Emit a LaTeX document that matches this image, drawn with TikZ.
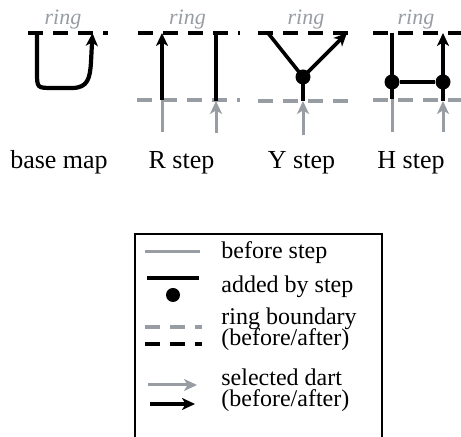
\documentclass[tikz,border=0pt]{standalone}
\usepackage{fontspec}
\setmainfont{Liberation Serif}
\usetikzlibrary{arrows.meta}
\definecolor{stepgray}{RGB}{152,157,163}
\newcommand\legfont{\fontsize{12}{10.6}\selectfont\lineskiplimit=-20pt\relax}

\begin{document}
\begin{tikzpicture}[x=0.5pt,y=-0.5pt,
        old/.style={stepgray, line width=1.5pt},
        new/.style={black, line width=1.6pt},
        ringb/.style={line width=1.8pt, dash pattern=on 7.5pt off 5pt},
        dart/.style={-{Stealth[length=6.5pt,width=6pt,inset=1.8pt]}},
        dot/.style={circle, fill=black, inner sep=0pt, minimum size=7.5pt},
        ringlbl/.style={stepgray, font=\fontsize{11}{13}\selectfont\itshape, anchor=base},
        steplbl/.style={font=\fontsize{13}{15}\selectfont, anchor=base},
        leglbl/.style={font=\legfont, anchor=base west, inner sep=0pt, align=left}]
        \useasboundingbox (0,0) rectangle (461,437);

        % base map
        \node[ringlbl] (ring0) at (63,25) {ring};
        \draw[ringb] (28,33) -- (108,33);
        \coordinate (u1) at (37,33);
        \coordinate (u2) at (92.5,33);
        \draw[new, line width=2.1pt, dart] (u1) -- (37,72) .. controls (37,88) .. (53,88)
            -- (72,88) .. controls (88,88) and (90,78) .. (91,62) -- (u2);
        \node[steplbl] (lb0) at (59,169) {base map};

        % R step
        \node[ringlbl] (ring1) at (187.5,25) {ring};
        \draw[ringb] (138,33) -- (240,33);
        \draw[ringb, stepgray] (137,100) -- (240,100);
        \coordinate (ra1) at (162,33);
        \coordinate (ra2) at (162,100);
        \coordinate (ra3) at (162,132);
        \coordinate (rb1) at (216,33);
        \coordinate (rb2) at (216,101);
        \coordinate (rb3) at (216,133);
        \draw[new, dart] (ra2) -- (ra1);
        \draw[old] (ra3) -- (ra2);
        \draw[new] (rb1) -- (rb2);
        \draw[old, dart] (rb3) -- (rb2);
        \node[steplbl] (lb1) at (181.5,169) {R step};

        % Y step
        \node[ringlbl] (ring2) at (306,25) {ring};
        \draw[ringb] (258,33) -- (348,33);
        \draw[ringb, stepgray] (258,101) -- (348,101);
        \node[dot] (y) at (303,77) {};
        \coordinate (ya) at (268,33);
        \coordinate (yb) at (347,33);
        \coordinate (yc) at (303,101);
        \coordinate (yd) at (303,135);
        \draw[new, line width=1.8pt] (ya) -- (y.center) -- (yc);
        \draw[new, line width=1.8pt, dart] (y.center) -- (yb);
        \draw[old, dart] (yd) -- (yc);
        \node[steplbl] (lb2) at (301.5,169) {Y step};

        % H step
        \node[ringlbl] (ring3) at (416,25) {ring};
        \draw[ringb] (373,33) -- (461,33);
        \draw[ringb, stepgray] (373,100) -- (461,100);
        \node[dot] (h1) at (392,82) {};
        \node[dot] (h2) at (443,82) {};
        \coordinate (ha) at (392,33);
        \coordinate (hb) at (392,99);
        \coordinate (hc) at (392,132);
        \coordinate (hd) at (443,33);
        \coordinate (he) at (443,101);
        \coordinate (hf) at (443,132);
        \draw[new] (ha) -- (hb);
        \draw[old] (hb) -- (hc);
        \draw[new] (h1) -- (h2);
        \draw[new, dart] (he) -- (hd);
        \draw[old, dart] (hf) -- (he);
        \node[steplbl] (lb3) at (411,169) {H step};

        % legend
        \draw[line width=0.9pt] (135,234) rectangle (382,470);
        \draw[old] (145,252) -- (200,252);
        \draw[new, line width=1.9pt] (147,278) -- (199,278);
        \node[dot, minimum size=7pt] (k) at (173,295) {};
        \draw[ringb, stepgray] (145,327) -- (202,327);
        \draw[ringb] (145,344) -- (202,344);
        \draw[old, dart] (148,385) -- (197,385);
        \draw[new, line width=1.8pt, dart] (150,404) -- (195,404);
        \node[leglbl] (t1) at (221,259) {before step};
        \node[leglbl] (t2) at (221,293) {added by step};
        \node[leglbl] (t3) at (221,345.5) {ring boundary\\(before/after)};
        \node[leglbl] (t5) at (221,407) {selected dart\\(before/after)};
\end{tikzpicture}
\end{document}
